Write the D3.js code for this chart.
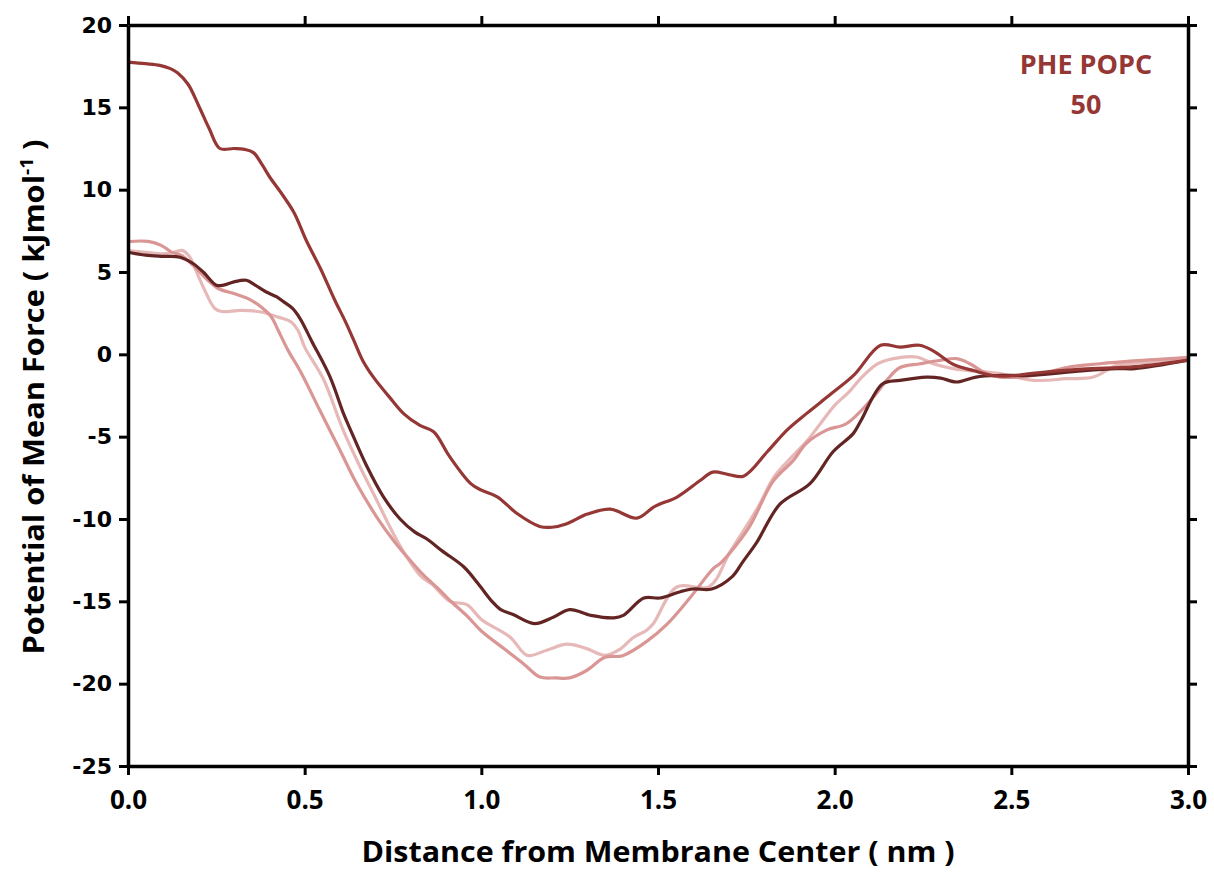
<!DOCTYPE html>
<meta charset="utf-8">
<script src="https://d3js.org/d3.v7.min.js"></script>
<style>
    body { margin: 0; background: #fff; }
    .yTick text { font-family: "DejaVu Sans", sans-serif; font-weight: bold; font-size: 22px; fill: #000; }
    .xTick text { font-family: "Open Sans", sans-serif; font-weight: bold; font-size: 26px; fill: #000; }
    .axisTitle { font-family: "Open Sans", sans-serif; font-weight: bold; font-size: 29px; fill: #000; }
    .legendText { font-family: "Open Sans", sans-serif; font-weight: bold; font-size: 27px; fill: #953735; }
</style>
<div id="chart"></div>
<script>
    // tick values
    const xTicks = [0, 0.5, 1.0, 1.5, 2.0, 2.5, 3.0];
    const yTicks = [20, 15, 10, 5, 0, -5, -10, -15, -20, -25];

    // PMF curves: [distance nm, kJ/mol]
    const run1 = [[0.0,17.75],[0.05,17.65],[0.09,17.55],[0.12,17.35],[0.14,17.1],[0.17,16.4],[0.2,15.1],[0.23,13.7],[0.26,12.5],[0.3,12.5],[0.33,12.45],[0.355,12.25],[0.38,11.5],[0.4,10.8],[0.44,9.6],[0.47,8.6],[0.505,6.9],[0.545,5.2],[0.585,3.3],[0.615,2.0],[0.64,0.8],[0.665,-0.4],[0.695,-1.4],[0.74,-2.6],[0.78,-3.6],[0.825,-4.3],[0.865,-4.7],[0.91,-6.2],[0.97,-7.85],[1.0,-8.25],[1.045,-8.65],[1.1,-9.65],[1.165,-10.45],[1.2,-10.5],[1.24,-10.3],[1.3,-9.7],[1.365,-9.4],[1.44,-9.95],[1.49,-9.25],[1.555,-8.65],[1.62,-7.65],[1.655,-7.15],[1.7,-7.3],[1.742,-7.4],[1.81,-5.9],[1.865,-4.6],[1.92,-3.6],[1.99,-2.4],[2.055,-1.25],[2.13,0.55],[2.185,0.44],[2.24,0.55],[2.28,0.2],[2.335,-0.6],[2.395,-1.0],[2.45,-1.3],[2.5,-1.3],[2.56,-1.15],[2.7,-0.9],[2.85,-0.75],[3.0,-0.35]];

    const run2 = [[0,6.2],[0.05,6.02],[0.1,5.95],[0.147,5.9],[0.185,5.5],[0.213,5.0],[0.25,4.2],[0.27,4.2],[0.3,4.4],[0.335,4.5],[0.36,4.2],[0.39,3.8],[0.42,3.5],[0.44,3.2],[0.465,2.8],[0.487,2.17],[0.52,0.8],[0.572,-1.38],[0.61,-3.6],[0.63,-4.6],[0.676,-6.8],[0.723,-8.66],[0.77,-10.0],[0.812,-10.8],[0.845,-11.2],[0.89,-11.95],[0.95,-12.9],[0.99,-13.9],[1.03,-15.0],[1.055,-15.5],[1.09,-15.8],[1.15,-16.35],[1.205,-15.95],[1.25,-15.5],[1.31,-15.85],[1.375,-16.0],[1.402,-15.85],[1.46,-14.8],[1.506,-14.8],[1.565,-14.4],[1.6,-14.25],[1.652,-14.25],[1.71,-13.5],[1.74,-12.6],[1.78,-11.4],[1.845,-9.1],[1.93,-7.85],[1.996,-5.9],[2.053,-4.8],[2.075,-4.0],[2.135,-1.8],[2.185,-1.58],[2.26,-1.38],[2.3,-1.44],[2.345,-1.68],[2.4,-1.38],[2.47,-1.28],[2.55,-1.28],[2.7,-1.0],[2.8,-0.87],[2.85,-0.87],[3.0,-0.36]];

    const run3 = [[0,6.85],[0.057,6.86],[0.094,6.62],[0.123,6.21],[0.151,6.01],[0.189,5.3],[0.226,4.5],[0.255,4.0],[0.302,3.68],[0.34,3.38],[0.377,2.87],[0.406,2.26],[0.425,1.46],[0.453,0.24],[0.487,-1.0],[0.543,-3.4],[0.6,-5.83],[0.647,-7.85],[0.704,-9.88],[0.751,-11.29],[0.798,-12.5],[0.836,-13.4],[0.883,-14.33],[0.911,-14.94],[0.96,-15.9],[1.0,-16.8],[1.072,-18.0],[1.12,-18.8],[1.166,-19.6],[1.21,-19.65],[1.25,-19.65],[1.298,-19.2],[1.35,-18.4],[1.4,-18.3],[1.47,-17.4],[1.525,-16.4],[1.59,-14.8],[1.657,-13.0],[1.676,-12.7],[1.755,-10.6],[1.826,-7.7],[1.883,-6.44],[1.92,-5.4],[1.977,-4.6],[2.034,-4.2],[2.11,-2.59],[2.147,-1.58],[2.185,-0.8],[2.242,-0.57],[2.3,-0.36],[2.345,-0.26],[2.383,-0.57],[2.421,-1.07],[2.468,-1.38],[2.563,-1.28],[2.657,-0.8],[2.751,-0.57],[2.846,-0.4],[3.0,-0.2]];

    const run4 = [[0,6.3],[0.05,6.2],[0.1,6.1],[0.13,6.2],[0.155,6.3],[0.175,5.9],[0.2,4.7],[0.217,3.9],[0.245,2.8],[0.265,2.6],[0.32,2.67],[0.377,2.57],[0.425,2.26],[0.462,1.96],[0.481,1.46],[0.5,0.44],[0.553,-1.5],[0.609,-4.61],[0.657,-6.84],[0.704,-8.86],[0.751,-10.89],[0.789,-12.31],[0.83,-13.5],[0.86,-13.95],[0.911,-15.0],[0.959,-15.2],[1.0,-16.1],[1.081,-17.16],[1.13,-18.28],[1.185,-17.97],[1.242,-17.6],[1.298,-17.87],[1.35,-18.28],[1.393,-17.9],[1.43,-17.2],[1.468,-16.76],[1.487,-16.35],[1.553,-14.13],[1.645,-14.1],[1.704,-12.0],[1.78,-9.4],[1.83,-7.4],[1.88,-6.2],[1.92,-5.3],[1.96,-4.2],[2.0,-3.1],[2.04,-2.3],[2.072,-1.5],[2.12,-0.6],[2.166,-0.26],[2.232,-0.16],[2.279,-0.57],[2.336,-0.87],[2.374,-0.97],[2.468,-1.17],[2.563,-1.58],[2.657,-1.48],[2.732,-1.38],[2.798,-0.67],[2.893,-0.47],[3.0,-0.16]];

    // drawing order: lightest first
    const series = [
        { data: run4, color: "#E6B9B8" },
        { data: run3, color: "#D99694" },
        { data: run2, color: "#632523" },
        { data: run1, color: "#953735" }
    ];
    const legendLines = ["PHE POPC", "50"];

    const width = 1214, height = 873;
    const margin = { top: 25, right: 26, bottom: 107, left: 128 };

    const svg = d3.select("#chart").append("svg")
        .attr("width", width)
        .attr("height", height);

    const x = d3.scaleLinear().domain([0, 3]).range([margin.left, width - margin.right]);
    const y = d3.scaleLinear().domain([-25, 20]).range([height - margin.bottom, margin.top]);

    // curves
    const line = d3.line()
        .x(d => x(d[0]))
        .y(d => y(d[1]))
        .curve(d3.curveCatmullRom.alpha(0.5));

    svg.append("g")
        .selectAll("path")
        .data(series)
        .join("path")
        .attr("d", d => line(d.data))
        .attr("fill", "none")
        .attr("stroke", d => d.color)
        .attr("stroke-width", 3.2)
        .attr("stroke-linejoin", "round");

    // frame + ticks on all four sides
    function styleAxis(g) {
        g.select(".domain").attr("stroke", "#000").attr("stroke-width", 3.5);
        g.selectAll(".tick line").attr("stroke", "#000").attr("stroke-width", 3);
    }

    svg.append("g")
        .attr("class", "xTick")
        .attr("transform", `translate(0,${y(-25)})`)
        .call(d3.axisBottom(x).tickValues(xTicks).tickFormat(d3.format(".1f")).tickSize(9).tickSizeOuter(0).tickPadding(16))
        .call(styleAxis)
        .call(g => g.selectAll("text").attr("font-family", null).attr("font-size", null));

    svg.append("g")
        .attr("transform", `translate(0,${y(20)})`)
        .call(d3.axisTop(x).tickValues(xTicks).tickFormat("").tickSize(9).tickSizeOuter(0))
        .call(styleAxis);

    svg.append("g")
        .attr("class", "yTick")
        .attr("transform", `translate(${x(0)},0)`)
        .call(d3.axisLeft(y).tickValues(yTicks).tickFormat(d => String(d)).tickSize(9).tickSizeOuter(0).tickPadding(7))
        .call(styleAxis)
        .call(g => g.selectAll("text").attr("font-family", null).attr("font-size", null));

    svg.append("g")
        .attr("transform", `translate(${x(3)},0)`)
        .call(d3.axisRight(y).tickValues(yTicks).tickFormat("").tickSize(9).tickSizeOuter(0))
        .call(styleAxis);

    // axis titles
    svg.append("text")
        .attr("class", "axisTitle")
        .attr("x", 658)
        .attr("y", 862)
        .attr("text-anchor", "middle")
        .attr("textLength", 593)
        .attr("lengthAdjust", "spacingAndGlyphs")
        .text("Distance from Membrane Center ( nm )");

    const yTitle = svg.append("text")
        .attr("class", "axisTitle")
        .attr("transform", "translate(44,397) rotate(-90)")
        .attr("text-anchor", "middle")
        .attr("textLength", 515)
        .attr("lengthAdjust", "spacingAndGlyphs");
    yTitle.append("tspan").text("Potential of Mean Force ( kJmol");
    yTitle.append("tspan").attr("font-size", "18px").attr("dy", -11).text("-1");
    yTitle.append("tspan").attr("dy", 11).text(" )");

    // legend label
    svg.append("g")
        .selectAll("text")
        .data(legendLines)
        .join("text")
        .attr("class", "legendText")
        .attr("x", 1086)
        .attr("y", (d, i) => 74 + i * 40)
        .attr("text-anchor", "middle")
        .text(d => d);
</script>
